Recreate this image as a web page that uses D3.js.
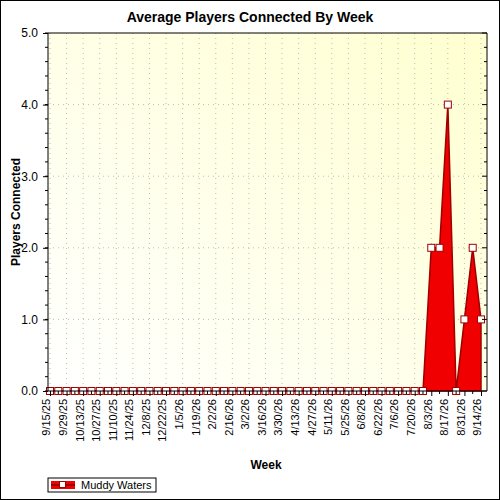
<!DOCTYPE html>
<html><head><meta charset="utf-8">
<script src="https://cdn.jsdelivr.net/npm/d3@7"></script>
<style>body{margin:0}text{font-family:Arial,"Liberation Sans",sans-serif}</style>
</head><body><div id="box-div"></div>
<script>
const startDate = new Date(2025, 8, 15)
const weeks = d3.range(53).map(i => d3.timeWeek.offset(startDate, i))
const players = [0,0,0,0,0,0,0,0,0,0,0,0,0,0,0,0,0,0,0,0,0,0,0,0,0,0,0,0,0,0,0,0,0,0,0,0,0,0,0,0,0,0,0,0,0,0,2,2,4,0,1,2,1]
const yTicks = [0, 1, 2, 3, 4, 5]
const seriesName = 'Muddy Waters'

const dms = {width: 500, height: 500, left: 48, right: 487, top: 33, bottom: 391}
const fmt = d3.timeFormat('%-m/%-d/%y')

const svg = d3.select('#box-div').append('svg')
    .attr('width', dms.width).attr('height', dms.height)

const defs = svg.append('defs')
const grad = defs.append('linearGradient').attr('id', 'bg')
    .attr('x1', 0).attr('y1', 1).attr('x2', 1).attr('y2', 0)
grad.append('stop').attr('offset', 0).attr('stop-color', '#ffffff')
grad.append('stop').attr('offset', 1).attr('stop-color', '#ffffd0')

svg.append('rect').attr('x', 0.5).attr('y', 0.5).attr('width', 499).attr('height', 499)
    .attr('fill', 'white').attr('stroke', '#000')

svg.append('rect').attr('x', dms.left).attr('y', dms.top)
    .attr('width', dms.right - dms.left).attr('height', dms.bottom - dms.top)
    .attr('fill', 'url(#bg)')

const x = d3.scalePoint().domain(weeks).range([50, 481])
const y = d3.scaleLinear().domain([0, 5]).range([dms.bottom, dms.top])

// grid
const grid = svg.append('g').attr('stroke', '#bbb').attr('stroke-dasharray', '1,4')
grid.selectAll('.v').data(weeks.filter((d, i) => i % 2 === 0)).join('line')
    .attr('x1', d => x(d)).attr('x2', d => x(d)).attr('y1', dms.top).attr('y2', dms.bottom)
grid.selectAll('.h').data(yTicks.slice(1, -1)).join('line')
    .attr('x1', dms.left).attr('x2', dms.right).attr('y1', d => y(d)).attr('y2', d => y(d))

// area
const area = d3.area().x(d => x(d.w)).y0(y(0)).y1(d => y(d.v))
const data = weeks.map((w, i) => ({w, v: players[i]}))
svg.append('path').attr('d', area(data)).attr('fill', '#f00000')
    .attr('stroke', '#a00000').attr('stroke-width', 1.5)
svg.selectAll('.pt').data(data).join('rect')
    .attr('x', d => x(d.w) - 3.5).attr('y', d => y(d.v) - 3.5)
    .attr('width', 7).attr('height', 7)
    .attr('fill', 'white').attr('stroke', '#a00000')

// axes
const xAxis = svg.append('g').attr('transform', `translate(0,${dms.bottom})`)
    .call(d3.axisBottom(x).tickValues(weeks.filter((d, i) => i % 2 === 0)).tickFormat(fmt).tickSize(5))
xAxis.select('.domain').attr('d', `M${dms.left},0H${dms.right}`)
xAxis.selectAll('text').attr('transform', 'rotate(-90)').attr('text-anchor', 'end')
    .attr('x', -8).attr('y', -4).attr('dy', '0.35em').attr('font-size', 11).attr('fill', '#000')
xAxis.selectAll('.minor').data(weeks.filter((d, i) => i % 2 === 1)).join('line')
    .attr('x1', d => x(d)).attr('x2', d => x(d)).attr('y1', 0).attr('y2', 3).attr('stroke', '#000')

const yAxis = svg.append('g').attr('transform', `translate(${dms.left},0)`)
    .call(d3.axisLeft(y).tickValues(yTicks).tickSize(5))
yAxis.select('.domain').attr('d', `M0,${dms.top}V${dms.bottom}`)
yAxis.selectAll('text').attr('font-size', 12).attr('fill', '#000').attr('x', -10)
yAxis.selectAll('.minor').data(d3.range(0, 5.01, 0.2)).join('line')
    .attr('x1', 0).attr('x2', -3).attr('y1', d => y(d)).attr('y2', d => y(d)).attr('stroke', '#000')

const rAxis = svg.append('g').attr('transform', `translate(${dms.right},0)`)
rAxis.append('line').attr('y1', dms.top).attr('y2', dms.bottom).attr('stroke', '#000')
rAxis.selectAll('.t').data(d3.range(0, 5.01, 0.2)).join('line')
    .attr('x1', 0).attr('x2', (d, i) => i % 5 === 0 ? -5 : -3)
    .attr('y1', d => y(d)).attr('y2', d => y(d)).attr('stroke', '#000')
svg.append('line').attr('x1', dms.left).attr('x2', dms.right)
    .attr('y1', dms.top).attr('y2', dms.top).attr('stroke', '#000')

// titles
svg.append('text').attr('x', 250).attr('y', 22).attr('text-anchor', 'middle')
    .attr('font-weight', 'bold').attr('font-size', 14).text('Average Players Connected By Week')
svg.append('text').attr('x', 266).attr('y', 469).attr('text-anchor', 'middle')
    .attr('font-weight', 'bold').attr('font-size', 12).text('Week')
svg.append('text').attr('transform', 'translate(20,212) rotate(-90)').attr('text-anchor', 'middle')
    .attr('font-weight', 'bold').attr('font-size', 12).text('Players Connected')

// legend
const lg = svg.append('g').attr('transform', 'translate(48,478)')
lg.append('rect').attr('width', 108).attr('height', 14).attr('fill', 'white').attr('stroke', '#000')
lg.append('rect').attr('x', 3).attr('y', 3).attr('width', 24).attr('height', 8).attr('fill', '#f00000')
lg.append('line').attr('x1', 3).attr('x2', 27).attr('y1', 7).attr('y2', 7).attr('stroke', '#a00000').attr('stroke-width', 2)
lg.append('rect').attr('x', 11.5).attr('y', 3.5).attr('width', 6).attr('height', 6)
    .attr('fill', 'white').attr('stroke', '#a00000')
lg.append('text').attr('x', 33).attr('y', 11).attr('font-size', 11).text(seriesName)
</script></body></html>
